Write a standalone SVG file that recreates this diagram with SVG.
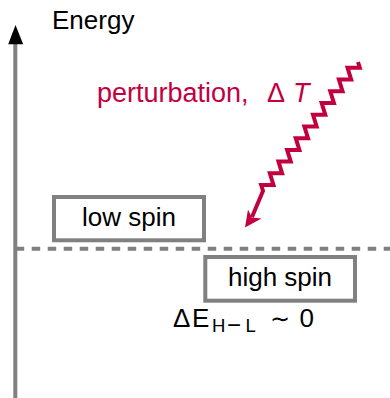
<svg xmlns="http://www.w3.org/2000/svg" width="390" height="398" viewBox="0 0 390 398">
  <style>
    .lbl { font-family: "Liberation Sans", Arial, sans-serif; font-size: 26px; fill: #000; }
    .pert { font-family: "Liberation Sans", Arial, sans-serif; font-size: 27px; fill: #c3003f; }
    .sub { font-size: 18.5px; }
    .box { fill: #fff; stroke: #808080; stroke-width: 4; }
    .gray { stroke: #808080; fill: none; }
  </style>
  <rect width="390" height="398" fill="#fff"/>

  <g id="connectors">
    <g id="energy-axis">
      <line class="gray" x1="15.3" y1="398" x2="15.3" y2="42" stroke-width="4"/>
      <polygon points="15.5,25 23.2,44.3 8.2,44.3" fill="#000"/>
    </g>
    <g id="degeneracy-line">
      <line class="gray" x1="15.7" y1="248.7" x2="390" y2="248.7" stroke-width="4" stroke-dasharray="8.5 7.5"/>
    </g>
    <g id="perturbation-arrow">
      <polyline fill="none" stroke="#c3003f" stroke-width="4" stroke-linejoin="miter" stroke-miterlimit="10"
        points="358,62 359.82,67.86 347.55,67.86 351.19,79.58 338.92,79.58 342.55,91.30 330.28,91.30 333.92,103.02 321.65,103.02 325.28,114.74 313.01,114.74 316.65,126.46 304.38,126.46 308.01,138.18 295.74,138.18 299.38,149.90 287.11,149.90 290.74,161.62 278.48,161.62 282.11,173.34 269.84,173.34 273.47,185.06 261.21,185.06 263,191 252,217"/>
      <polygon points="245,227.5 248,209.5 251.8,217.6 261.5,218.6" fill="#c3003f"/>
    </g>
  </g>

  <g id="energy-label">
    <text class="lbl" x="52" y="28.5" font-size="25">Energy</text>
  </g>

  <g id="perturbation-label">
    <text class="pert" x="97" y="102">perturbation,</text>
    <text class="pert" x="267" y="102">Δ</text>
    <text class="pert" x="293" y="102" font-style="italic">T</text>
  </g>

  <g id="low-spin">
    <rect class="box" x="54" y="197" width="150" height="43.3"/>
    <text class="lbl" x="129" y="225.7" text-anchor="middle">low spin</text>
  </g>

  <g id="high-spin">
    <rect class="box" x="205.3" y="257" width="149.7" height="43.7"/>
    <text class="lbl" x="280" y="286" text-anchor="middle">high spin</text>
  </g>

  <g id="delta-e-label">
    <text class="lbl" y="326.7"><tspan x="173">Δ</tspan><tspan x="192">E</tspan><tspan class="sub" x="212" y="331.7">H</tspan><tspan x="227" y="332.5" font-size="24">−</tspan><tspan class="sub" x="245.5" y="331.7">L</tspan><tspan x="270" y="326.7" font-family="DejaVu Sans, sans-serif" font-size="24">∼</tspan><tspan x="299.5" y="326.7">0</tspan></text>
  </g>
</svg>
